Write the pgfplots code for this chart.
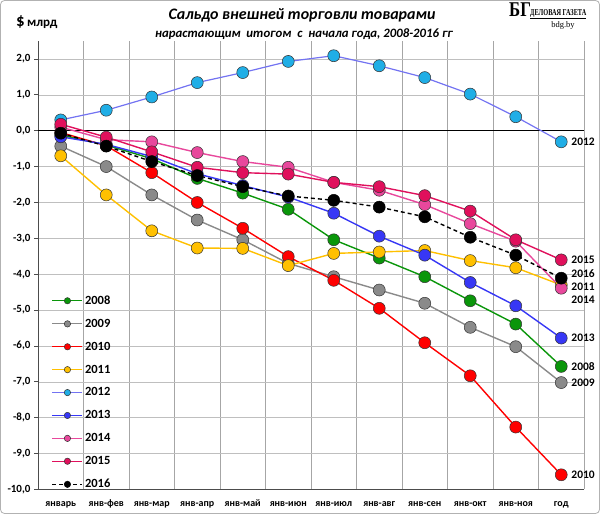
\documentclass[border=0pt]{standalone}
\usepackage{fontspec}
\setmainfont{Carlito}
\newfontfamily\logofont{Liberation Serif}
\usepackage{pgfplots}
\pgfplotsset{compat=1.18}
\definecolor{c08}{HTML}{0A960A}
\definecolor{c09}{HTML}{8A8A8A}
\definecolor{c10}{HTML}{FF0000}
\definecolor{c11}{HTML}{FFC000}
\definecolor{c12m}{HTML}{20AEE6}
\definecolor{c12l}{HTML}{7373F2}
\definecolor{c13}{HTML}{3737F5}
\definecolor{c14}{HTML}{E8489C}
\definecolor{c15}{HTML}{E0105C}
\begin{document}
\begin{tikzpicture}[x=1pt,y=1pt]
\useasboundingbox (0,0) rectangle (600,514);
\draw[gray!60, line width=0.8pt, rounded corners=4pt] (0.5,0.5) rectangle (599.5,513.5);
\begin{axis}[at={(38pt,24.5pt)}, anchor=south west, scale only axis,
  width=546pt, height=448.5pt,
  xmin=-0.5, xmax=11.5, ymin=-10, ymax=2.5,
  clip=false,
  xtick={0,...,11},
  xticklabels={январь,янв-фев,янв-мар,янв-апр,янв-май,янв-июн,янв-июл,янв-авг,янв-сен,янв-окт,янв-ноя,год},
  minor xtick={0.5,1.5,...,11.5},
  xminorgrids=true,
  ytick={-10,-9,...,2},
  ymajorgrids=true,
  x tick style={draw=none}, minor tick length=0pt,
  y tick style={black!70, line width=0.8pt}, major tick length=4pt, tick align=outside,
  axis x line*=bottom, axis y line*=left,
  axis line style={black!70, line width=0.8pt},
  minor grid style={black!35, line width=0.9pt},
  major grid style={black!25, line width=0.6pt},
  xticklabel style={font=\bfseries\fontsize{10}{12}\selectfont, text height=7pt, text depth=2pt, yshift=-2pt},
  yticklabel style={font=\bfseries\fontsize{11}{13}\selectfont, xshift=0pt,
    /pgf/number format/.cd, fixed, fixed zerofill, precision=1, use comma, assume math mode=true},
  every axis plot/.append style={line width=1.4pt, mark=*, mark size=6pt},
  legend style={at={(rel axis cs:0.025,0.437)}, anchor=north west, draw=none, fill=none,
    font=\bfseries\fontsize{12.5}{14}\selectfont, row sep=9.2pt, inner sep=0pt},
  legend cell align=left,
  legend image code/.code={\draw[mark size=3.2pt, mark repeat=2, mark phase=2, line width=1.2pt] plot coordinates {(0pt,0pt) (15pt,0pt) (30pt,0pt)};},
]
\addplot[black, line width=1.1pt, mark=none, forget plot] coordinates {(-0.5,0) (11.5,0)};
% 2008
\addplot[c08, mark options={fill=c08, draw=black!80, line width=0.5pt}] coordinates {
(0,-0.12) (1,-0.40) (2,-0.78) (3,-1.33) (4,-1.74) (5,-2.19) (6,-3.04) (7,-3.55) (8,-4.07) (9,-4.74) (10,-5.39) (11,-6.57)};
\addlegendentry{2008}
% 2009
\addplot[c09, mark options={fill=c09, draw=black!80, line width=0.5pt}] coordinates {
(0,-0.43) (1,-1.00) (2,-1.79) (3,-2.49) (4,-3.04) (5,-3.70) (6,-4.07) (7,-4.44) (8,-4.81) (9,-5.48) (10,-6.02) (11,-7.02)};
\addlegendentry{2009}
% 2010
\addplot[c10, mark options={fill=c10, draw=black!80, line width=0.5pt}] coordinates {
(0,-0.05) (1,-0.42) (2,-1.17) (3,-2.00) (4,-2.72) (5,-3.51) (6,-4.17) (7,-4.95) (8,-5.91) (9,-6.83) (10,-8.26) (11,-9.59)};
\addlegendentry{2010}
% 2011
\addplot[c11, mark options={fill=c11, draw=black!80, line width=0.5pt}] coordinates {
(0,-0.70) (1,-1.79) (2,-2.79) (3,-3.27) (4,-3.28) (5,-3.76) (6,-3.42) (7,-3.38) (8,-3.34) (9,-3.62) (10,-3.82) (11,-4.30)};
\addlegendentry{2011}
% 2012
\addplot[c12l, line width=1.2pt, mark options={fill=c12m, draw=black!80, line width=0.5pt}] coordinates {
(0,0.30) (1,0.57) (2,0.94) (3,1.34) (4,1.62) (5,1.93) (6,2.09) (7,1.81) (8,1.48) (9,1.02) (10,0.39) (11,-0.31)};
\addlegendentry{2012}
% 2013
\addplot[c13, mark options={fill=c13, draw=black!80, line width=0.5pt}] coordinates {
(0,-0.17) (1,-0.38) (2,-0.72) (3,-1.20) (4,-1.53) (5,-1.85) (6,-2.30) (7,-2.94) (8,-3.47) (9,-4.23) (10,-4.88) (11,-5.78)};
\addlegendentry{2013}
% 2014
\addplot[c14, mark options={fill=c14, draw=black!80, line width=0.5pt}] coordinates {
(0,0.10) (1,-0.25) (2,-0.31) (3,-0.61) (4,-0.86) (5,-1.02) (6,-1.44) (7,-1.66) (8,-2.06) (9,-2.59) (10,-3.08) (11,-4.39)};
\addlegendentry{2014}
% 2015
\addplot[c15, mark options={fill=c15, draw=black!80, line width=0.5pt}] coordinates {
(0,0.18) (1,-0.18) (2,-0.59) (3,-1.02) (4,-1.17) (5,-1.21) (6,-1.44) (7,-1.56) (8,-1.81) (9,-2.24) (10,-3.04) (11,-3.60)};
\addlegendentry{2015}
% 2016
\addplot[black, dash pattern=on 4pt off 3pt, mark options={solid, fill=black, draw=black, line width=0.5pt}] coordinates {
(0,-0.07) (1,-0.43) (2,-0.86) (3,-1.25) (4,-1.56) (5,-1.82) (6,-1.94) (7,-2.13) (8,-2.40) (9,-2.97) (10,-3.47) (11,-4.11)};
\addlegendentry{2016}
\begin{scope}[every node/.style={anchor=west, font=\bfseries\fontsize{11.5}{13}\selectfont, inner sep=0pt, text height=7.5pt, text depth=0pt, xshift=10pt}]
\node at (axis cs:11,-0.31) {2012};
\node at (axis cs:11,-3.60) {2015};
\node at (axis cs:11,-4.00) {2016};
\node at (axis cs:11,-4.36) {2011};
\node at (axis cs:11,-4.72) {2014};
\node at (axis cs:11,-5.78) {2013};
\node at (axis cs:11,-6.57) {2008};
\node at (axis cs:11,-7.02) {2009};
\node at (axis cs:11,-9.59) {2010};
\end{scope}
\end{axis}
\node[font=\bfseries\itshape\fontsize{16}{18}\selectfont] at (302,499) {Сальдо внешней торговли товарами};
\node[font=\bfseries\itshape\fontsize{12.8}{14}\selectfont] at (304,480) {нарастающим\ \ итогом\ \ с\ \ начала года, 2008-2016 гг};
\node[anchor=west, font=\bfseries, inner sep=0pt] at (16,492) {{\fontsize{17}{18}\selectfont\$}\ {\fontsize{13}{14}\selectfont млрд}};
\node[anchor=west, inner sep=0pt, font=\logofont\bfseries\fontsize{21}{21}\selectfont] at (509,504) {\scalebox{0.8}[1]{БГ}};
\node[anchor=west, inner sep=0pt, font=\logofont\bfseries\fontsize{9}{10}\selectfont] at (530,500) {\scalebox{0.7}[1]{\underline{ДЕЛОВАЯ ГАЗЕТА}}};
\node[inner sep=0pt, font=\logofont\fontsize{8.5}{9}\selectfont] at (563,489) {bdg.by};
\end{tikzpicture}
\end{document}
